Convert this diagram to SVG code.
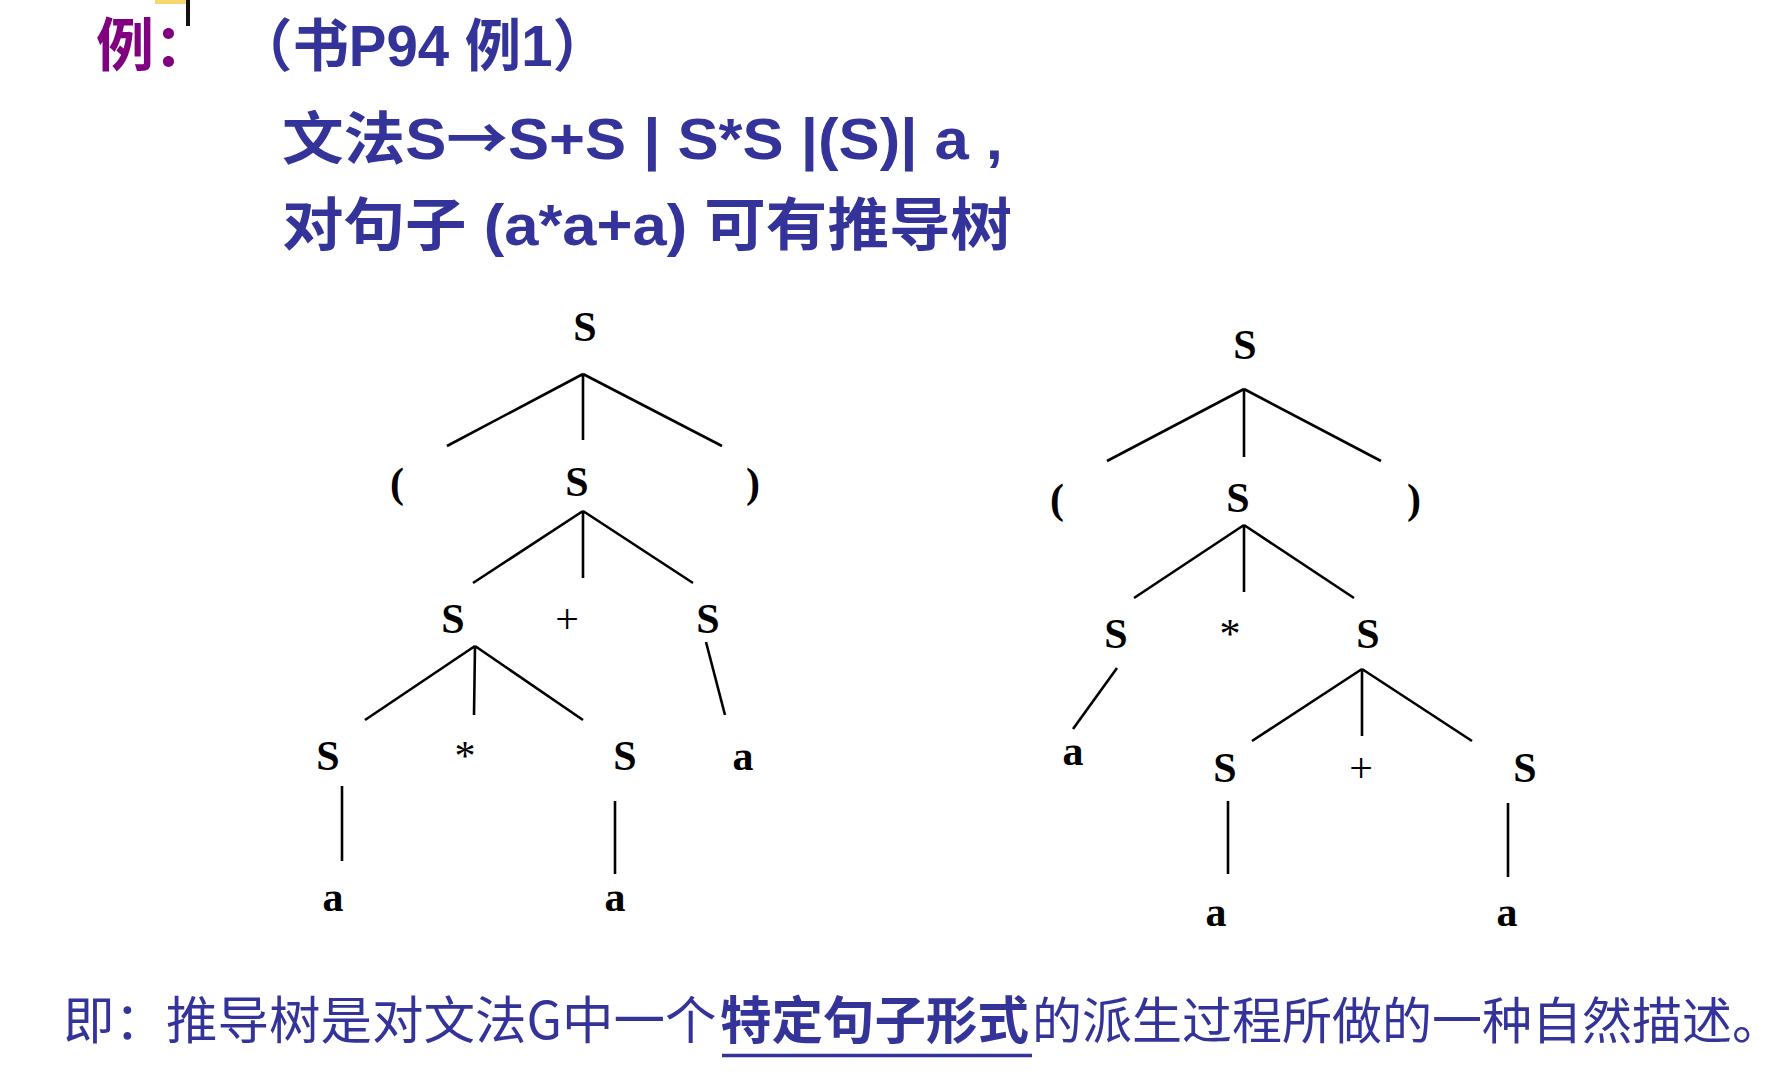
<svg xmlns="http://www.w3.org/2000/svg" width="1785" height="1080" viewBox="0 0 1785 1080">
<style>
.hd{font-family:"Liberation Sans","Noto Sans CJK SC",sans-serif;font-weight:bold;fill:#333399;font-size:57px}
.cj{font-family:"Noto Sans CJK SC",sans-serif}
.ex{font-family:"Noto Sans CJK SC",sans-serif;font-weight:bold;fill:#800080;font-size:58px}
.ft{font-family:"Noto Sans CJK SC",sans-serif;fill:#333399;font-size:51.5px}
.b{font-weight:bold}
.t{font-family:"Liberation Serif",serif;font-weight:bold;font-size:42px;fill:#000;text-anchor:middle}
.op{font-family:"Liberation Serif",serif;font-weight:normal;font-size:42px;fill:#000;text-anchor:middle}
.e{stroke:#000;stroke-width:2.6;fill:none;stroke-linecap:butt}
</style>
<rect width="1785" height="1080" fill="#fff"/>
<g id="cursor">
<rect x="155" y="0" width="35" height="4" fill="#f5d76e"/>
<rect x="186" y="0" width="4" height="26" fill="#111"/>
</g>
<g id="header">
<text class="ex" x="96" y="66">例：</text>
<text class="hd" x="236" y="66" textLength="373" lengthAdjust="spacingAndGlyphs">（书P94 例1）</text>
<text class="hd" x="282" y="159" textLength="721" lengthAdjust="spacingAndGlyphs">文法S<tspan class="cj">→</tspan>S+S | S*S |(S)| a ,</text>
<text class="hd" x="282" y="245" textLength="730" lengthAdjust="spacingAndGlyphs">对句子 (a*a+a) 可有推导树</text>
</g>
<g id="connectors">
<path class="e" d="M583 374L447 446M583 374V440M583 374L722 446"/>
<path class="e" d="M583 511L473 583M583 511V578M583 511L693 583"/>
<path class="e" d="M475 646L365 720M475 646L474 715M475 646L583 720"/>
<path class="e" d="M706 642L725 715"/>
<path class="e" d="M342 786V861"/>
<path class="e" d="M615 801V874"/>
<path class="e" d="M1244 389L1107 461M1244 389V457M1244 389L1381 461"/>
<path class="e" d="M1244 525L1134 598M1244 525V592M1244 525L1354 598"/>
<path class="e" d="M1117 668L1073 729"/>
<path class="e" d="M1362 669L1252 741M1362 669V736M1362 669L1472 741"/>
<path class="e" d="M1228 801V874"/>
<path class="e" d="M1508 803V877"/>
</g>
<g id="tree1">
<g id="t1-root"><text class="t" x="585" y="341">S</text></g>
<g id="t1-lp"><text class="t" x="397" y="497">(</text></g>
<g id="t1-s2"><text class="t" x="577" y="496">S</text></g>
<g id="t1-rp"><text class="t" x="753" y="497">)</text></g>
<g id="t1-s3l"><text class="t" x="453" y="633">S</text></g>
<g id="t1-plus"><text class="op" x="567" y="633">+</text></g>
<g id="t1-s3r"><text class="t" x="708" y="633">S</text></g>
<g id="t1-s4l"><text class="t" x="328" y="770">S</text></g>
<g id="t1-star"><text class="op" x="465" y="770">*</text></g>
<g id="t1-s4r"><text class="t" x="625" y="770">S</text></g>
<g id="t1-a3"><text class="t" x="743" y="770">a</text></g>
<g id="t1-a1"><text class="t" x="333" y="911">a</text></g>
<g id="t1-a2"><text class="t" x="615" y="911">a</text></g>
</g>
<g id="tree2">
<g id="t2-root"><text class="t" x="1245" y="359">S</text></g>
<g id="t2-lp"><text class="t" x="1057" y="513">(</text></g>
<g id="t2-s2"><text class="t" x="1238" y="512">S</text></g>
<g id="t2-rp"><text class="t" x="1414" y="513">)</text></g>
<g id="t2-s3l"><text class="t" x="1116" y="648">S</text></g>
<g id="t2-star"><text class="op" x="1230" y="648">*</text></g>
<g id="t2-s3r"><text class="t" x="1368" y="648">S</text></g>
<g id="t2-a1"><text class="t" x="1073" y="765">a</text></g>
<g id="t2-s4l"><text class="t" x="1225" y="782">S</text></g>
<g id="t2-plus"><text class="op" x="1361" y="782">+</text></g>
<g id="t2-s4r"><text class="t" x="1525" y="782">S</text></g>
<g id="t2-a2"><text class="t" x="1216" y="926">a</text></g>
<g id="t2-a3"><text class="t" x="1507" y="926">a</text></g>
</g>
<g id="footer">
<text class="ft" y="1039"><tspan x="63">即：推导树是对文法G中一个</tspan><tspan x="720" class="b">特定句子形式</tspan></text>
<text class="ft" x="1032" y="1039" style="font-size:50px">的派生过程所做的一种自然描述。</text>
<line x1="722" y1="1055.5" x2="1032" y2="1055.5" stroke="#333399" stroke-width="3.5"/>
</g>
</svg>
